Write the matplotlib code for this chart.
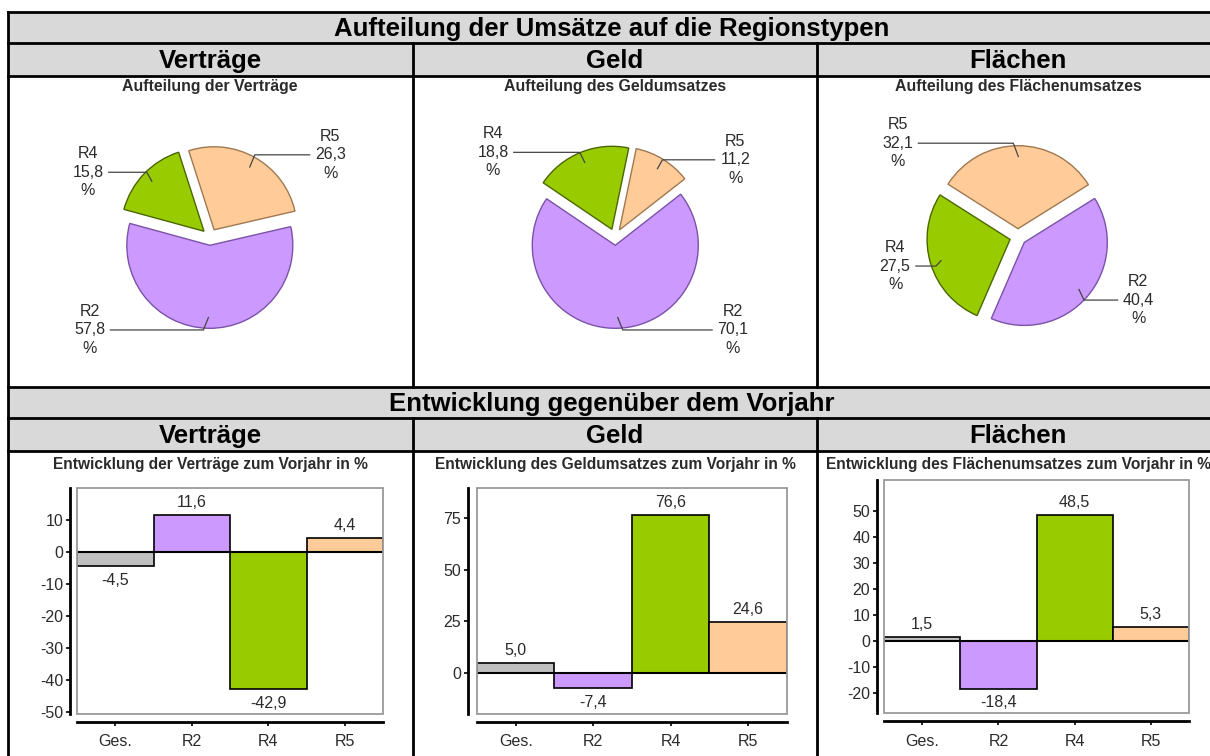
import matplotlib.pyplot as plt
import numpy as np
from matplotlib.patches import Rectangle

plt.rcParams['font.family'] = ['Liberation Sans', 'DejaVu Sans']
plt.rcParams['axes.unicode_minus'] = False

W, H = 1210, 756

# pie data (counter-clockwise order as drawn)
regions = ["R5", "R4", "R2"]
share_vertraege = [26.3, 15.8, 57.8]
share_geld = [11.2, 18.8, 70.1]
share_flaechen = [32.1, 27.5, 40.4]
pie_colors = ["#ffcc99", "#99cc00", "#cc99ff"]
pie_edges = ["#a07850", "#4a6600", "#7a52a8"]

# bar data
categories = ["Ges.", "R2", "R4", "R5"]
change_vertraege = [-4.5, 11.6, -42.9, 4.4]
change_geld = [5.0, -7.4, 76.6, 24.6]
change_flaechen = [1.5, -18.4, 48.5, 5.3]
bar_colors = ["#c0c0c0", "#cc99ff", "#99cc00", "#ffcc99"]

TXT = "#2b2b2b"
SMALL = 11.5


def fig_rect(x0, y0, x1, y1):
    # pixel box (y down) -> figure fraction
    return [x0 / W, 1 - y1 / H, (x1 - x0) / W, (y1 - y0) / H]


def fmt(v):
    return f"{v:.1f}".replace(".", ",")


fig = plt.figure(figsize=(W / 100, H / 100), dpi=100)

# table frame and headers
bg = fig.add_axes([0, 0, 1, 1])
bg.set_xlim(0, W)
bg.set_ylim(H, 0)
bg.axis('off')

for y0, h in [(12, 31), (43, 33), (387, 31), (418, 33)]:
    bg.add_patch(Rectangle((8, y0), 1215, h, fc="#d9d9d9", ec="none"))
for y in [12, 43, 76, 387, 418, 451]:
    bg.plot([8, W], [y, y], color="black", lw=2)
bg.plot([8, 8], [12, H], color="black", lw=2)
for x in [413, 817]:
    bg.plot([x, x], [43, 387], color="black", lw=2)
    bg.plot([x, x], [418, H], color="black", lw=2)

col_centers = [210, 615, 1018]
bg.text(612, 29, "Aufteilung der Umsätze auf die Regionstypen", ha="center", va="center",
        fontsize=18.5, fontweight="bold")
bg.text(612, 404, "Entwicklung gegenüber dem Vorjahr", ha="center", va="center",
        fontsize=18.5, fontweight="bold")
for cx, name in zip(col_centers, ["Verträge", "Geld", "Flächen"]):
    bg.text(cx, 61, name, ha="center", va="center", fontsize=18.5, fontweight="bold")
    bg.text(cx, 436, name, ha="center", va="center", fontsize=18.5, fontweight="bold")

pie_titles = ["Aufteilung der Verträge", "Aufteilung des Geldumsatzes",
              "Aufteilung des Flächenumsatzes"]
bar_titles = ["Entwicklung der Verträge zum Vorjahr in %",
              "Entwicklung des Geldumsatzes zum Vorjahr in %",
              "Entwicklung des Flächenumsatzes zum Vorjahr in %"]
for cx, t1, t2 in zip(col_centers, pie_titles, bar_titles):
    bg.text(cx, 87, t1, ha="center", va="center", fontsize=11.4, fontweight="bold", color=TXT)
    bg.text(cx, 464, t2, ha="center", va="center", fontsize=11.2, fontweight="bold", color=TXT)


def draw_pie(cx, cy, values, start, label_pos):
    R = 83
    half = 1.8 * R
    ax = fig.add_axes(fig_rect(cx - half, cy - half, cx + half, cy + half))
    wedges, _ = ax.pie(values, colors=pie_colors, startangle=start, explode=[0.1] * 3,
                       radius=1, wedgeprops=dict(linewidth=1))
    for w, ec in zip(wedges, pie_edges):
        w.set_edgecolor(ec)
    ax.set_xlim(-1.8, 1.8)
    ax.set_ylim(-1.8, 1.8)
    ax.set_aspect('equal')
    ax.axis('off')
    for w, name, v, (tx, ty) in zip(wedges, regions, values, label_pos):
        mid = np.deg2rad((w.theta1 + w.theta2) / 2)
        px, py = 0.97 * np.cos(mid), 0.97 * np.sin(mid)
        side = 1 if tx > 0 else -1
        ax.plot([tx - side * 0.25, px + side * 0.06, px], [ty, ty, py],
                color="#444444", lw=0.9, clip_on=False)
        ax.text(tx, ty, f"{name}\n{fmt(v)}\n%", ha="center", va="center", fontsize=SMALL,
                color=TXT, linespacing=1.3, clip_on=False)


draw_pie(210, 237, share_vertraege, 13, [(1.45, 0.99), (-1.47, 0.78), (-1.45, -1.12)])
draw_pie(615, 237, share_geld, 38, [(1.45, 0.93), (-1.47, 1.02), (1.42, -1.12)])
draw_pie(1018, 237, share_flaechen, 32, [(-1.45, 1.13), (-1.48, -0.35), (1.45, -0.76)])


def draw_bars(box, axis_x, values, ylim, yticks):
    x0, y0, x1, y1 = box
    ax = fig.add_axes(fig_rect(x0, y0, x1, y1))
    pos = np.arange(len(categories))
    bars = ax.bar(pos, values, width=1.0, color=bar_colors, edgecolor="black",
                  linewidth=1.2, zorder=2)
    ax.axhline(0, color="black", lw=1.5, zorder=3)
    ax.set_xlim(-0.5, 3.5)
    ax.set_ylim(*ylim)
    ax.add_patch(Rectangle((0, 0), 1, 1, transform=ax.transAxes, fill=False,
                           ec="#9a9a9a", lw=1.3, zorder=4, clip_on=False))
    for s in ["top", "right"]:
        ax.spines[s].set_visible(False)
    ax.spines["left"].set_position(("outward", (x0 - axis_x) * 0.72))
    ax.spines["bottom"].set_position(("outward", 8 * 0.72))
    for s in ["left", "bottom"]:
        ax.spines[s].set_linewidth(2)
    ax.set_yticks(yticks)
    ax.set_xticks(pos, categories)
    ax.tick_params(length=3, width=1.2, color="black", labelcolor=TXT, labelsize=SMALL)
    ax.tick_params(axis="y", pad=2)
    ax.tick_params(axis="x", pad=6)
    for b, v in zip(bars, values):
        ax.annotate(fmt(v), (b.get_x() + b.get_width() / 2, v),
                    xytext=(0, 9 if v >= 0 else -10), textcoords="offset points",
                    ha="center", va="center", fontsize=SMALL, color=TXT)


draw_bars((77, 488, 383, 714), 70, change_vertraege, (-50.6, 20), np.arange(-50, 11, 10))
draw_bars((477, 488, 787, 714), 468, change_geld, (-19.8, 89.5), [0, 25, 50, 75])
draw_bars((884, 480, 1189, 713), 877, change_flaechen, (-27.8, 61.8), np.arange(-20, 51, 10))

fig.savefig("out.png", dpi=100)
